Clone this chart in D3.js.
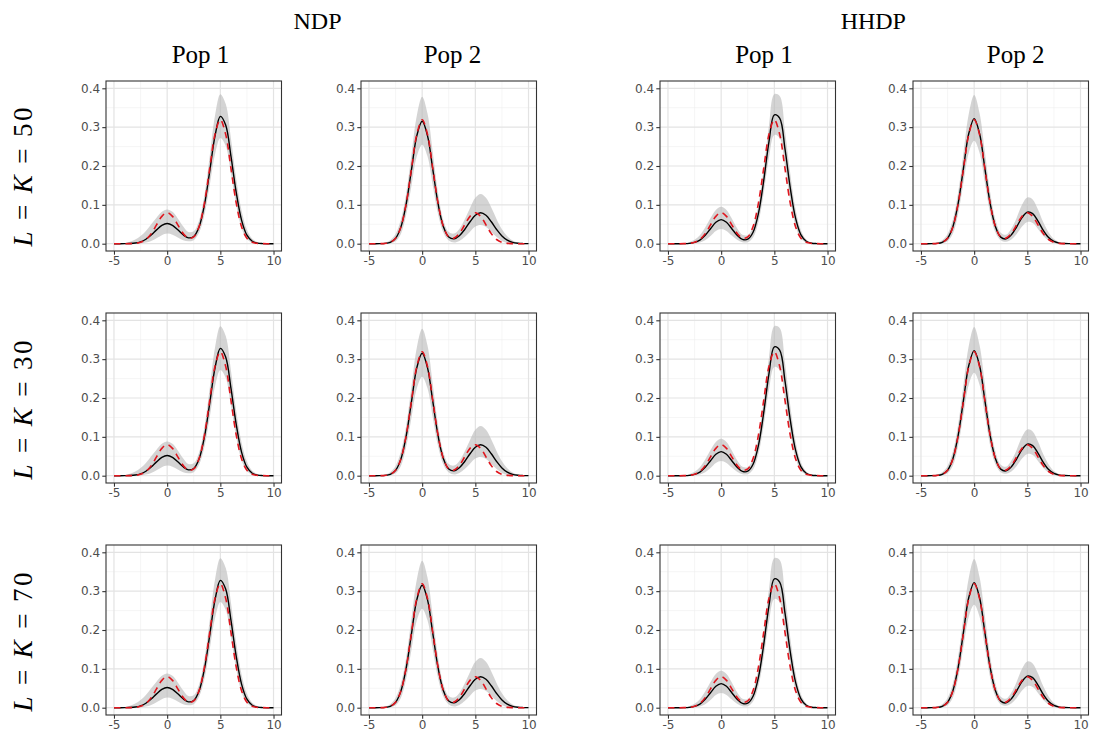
<!DOCTYPE html>
<html>
<head>
<meta charset="utf-8">
<script src="https://cdn.jsdelivr.net/npm/d3@7"></script>
<style>
  html, body { margin: 0; padding: 0; background: #ffffff; }
  svg { display: block; }
</style>
</head>
<body>
<svg id="chart" width="1094" height="738"></svg>
<script>
// ---------------- data ----------------
const xGrid = [-5,-4.5,-4,-3.5,-3,-2.5,-2,-1.5,-1,-0.5,0,0.5,1,1.5,2,2.5,3,3.5,4,4.5,5,5.5,6,6.5,7,7.5,8,8.5,9,9.5,10];
const xTicks = [-5, 0, 5, 10];
const yTicks = [0, 0.1, 0.2, 0.3, 0.4];
const methods = ["NDP", "HHDP"];
const populations = ["Pop 1", "Pop 2"];
const rowValues = ["50", "30", "70"];

// true densities (red dashed)
const truePop1 = [0,0,0,0.0002,0.0009,0.0035,0.0108,0.0259,0.0484,0.0704,0.0798,0.0704,0.0485,0.0266,0.0143,0.0175,0.0441,0.1038,0.1936,0.2817,0.3191,0.2817,0.1936,0.1036,0.0432,0.014,0.0035,0.0007,0.0001,0,0];
const truePop2 = [0,0,0.0001,0.0007,0.0035,0.014,0.0432,0.1036,0.1936,0.2817,0.3191,0.2817,0.1936,0.1038,0.0441,0.0175,0.0143,0.0266,0.0485,0.0704,0.0798,0.0704,0.0484,0.0259,0.0108,0.0035,0.0009,0.0002,0,0,0];

// NDP, Pop 1
const estNdpPop1 = [0,0,0.0001,0.0005,0.0017,0.0049,0.0115,0.0222,0.0356,0.0473,0.052,0.0473,0.0357,0.0229,0.0151,0.0185,0.0429,0.099,0.1861,0.2775,0.3277,0.3053,0.2246,0.1307,0.0601,0.0218,0.0062,0.0014,0.0003,0,0];
const upNdpPop1  = [0,0.0005,0.002,0.005,0.011,0.02,0.033,0.05,0.067,0.082,0.088,0.082,0.065,0.045,0.03,0.032,0.06,0.125,0.225,0.33,0.385,0.36,0.27,0.165,0.085,0.036,0.013,0.004,0.001,0,0];
const loNdpPop1  = [0,0,0,0,0.0003,0.001,0.003,0.007,0.014,0.022,0.026,0.023,0.016,0.009,0.006,0.009,0.028,0.074,0.15,0.23,0.272,0.252,0.18,0.098,0.04,0.012,0.003,0.0005,0,0,0];

// NDP, Pop 2
const estNdpPop2 = [0,0,0.0001,0.0007,0.0035,0.0138,0.0427,0.1023,0.1912,0.2782,0.3151,0.2782,0.1912,0.1023,0.0438,0.0173,0.0126,0.0206,0.0366,0.0564,0.0732,0.0798,0.0732,0.0564,0.0365,0.0199,0.0091,0.0035,0.0011,0.0003,0.0001];
const upNdpPop2  = [0,0.0003,0.001,0.003,0.009,0.025,0.062,0.13,0.23,0.33,0.378,0.335,0.235,0.13,0.06,0.03,0.026,0.038,0.062,0.092,0.118,0.128,0.118,0.093,0.063,0.037,0.019,0.008,0.003,0.001,0];
const loNdpPop2  = [0,0,0,0,0.001,0.006,0.025,0.075,0.15,0.225,0.255,0.225,0.15,0.075,0.028,0.008,0.003,0.007,0.017,0.031,0.044,0.048,0.043,0.03,0.017,0.007,0.002,0.0005,0,0,0];

// HHDP, Pop 1
const estHhdpPop1 = [0,0,0,0.0002,0.0009,0.0033,0.0094,0.0215,0.0386,0.0551,0.062,0.0551,0.0386,0.0218,0.0112,0.0115,0.0295,0.0776,0.1623,0.2636,0.3317,0.3234,0.2439,0.143,0.065,0.0228,0.0062,0.0013,0.0002,0,0];
const upHhdpPop1  = [0,0,0.0005,0.0015,0.004,0.01,0.022,0.042,0.066,0.087,0.095,0.087,0.065,0.04,0.023,0.022,0.045,0.1,0.195,0.305,0.385,0.38,0.29,0.18,0.088,0.034,0.011,0.003,0.0006,0,0];
const loHhdpPop1  = [0,0,0,0,0.0002,0.001,0.003,0.009,0.02,0.033,0.038,0.033,0.021,0.01,0.004,0.004,0.016,0.055,0.13,0.222,0.28,0.272,0.2,0.11,0.045,0.013,0.003,0.0005,0,0,0];

// HHDP, Pop 2
const estHhdpPop2 = [0,0,0.0001,0.0007,0.0036,0.0141,0.0436,0.1045,0.1953,0.2842,0.322,0.2842,0.1953,0.1046,0.0443,0.0169,0.0125,0.0229,0.0436,0.0671,0.0812,0.0774,0.058,0.0343,0.0159,0.0058,0.0016,0.0004,0.0001,0,0];
const upHhdpPop2  = [0,0.0002,0.0008,0.003,0.009,0.025,0.062,0.133,0.235,0.335,0.383,0.337,0.238,0.133,0.062,0.028,0.023,0.039,0.067,0.1,0.119,0.114,0.088,0.055,0.029,0.012,0.004,0.001,0.0003,0,0];
const loHhdpPop2  = [0,0,0,0,0.001,0.006,0.026,0.078,0.158,0.235,0.265,0.235,0.158,0.078,0.029,0.009,0.005,0.011,0.025,0.044,0.056,0.053,0.038,0.02,0.008,0.002,0.0005,0,0,0,0];

// ---------------- layout ----------------
const panelLefts = [106, 361, 660, 913];
const panelTops = [81, 313, 545];
const PW = 175.5, PH = 170;

const columns = [
  { truth: truePop1, est: estNdpPop1,  lo: loNdpPop1,  up: upNdpPop1 },
  { truth: truePop2, est: estNdpPop2,  lo: loNdpPop2,  up: upNdpPop2 },
  { truth: truePop1, est: estHhdpPop1, lo: loHhdpPop1, up: upHhdpPop1 },
  { truth: truePop2, est: estHhdpPop2, lo: loHhdpPop2, up: upHhdpPop2 }
];

const svg = d3.select("#chart");
const x = d3.scaleLinear().domain([-5.75, 10.75]).range([0, PW]);
const y = d3.scaleLinear().domain([-0.0188, 0.4188]).range([PH, 0]);
const xMinor = [-2.5, 2.5, 7.5];
const yMinor = [0.05, 0.15, 0.25, 0.35];
const curve = d3.curveCatmullRom.alpha(0.5);

const area = d3.area()
  .x((d, i) => x(xGrid[i]))
  .y0(d => y(d[0]))
  .y1(d => y(d[1]))
  .curve(curve);
const line = d3.line()
  .x((d, i) => x(xGrid[i]))
  .y(d => y(d))
  .curve(curve);

const tickFont = "'DejaVu Sans', 'Liberation Sans', Arial, sans-serif";
const serif = "'Liberation Serif', 'Times New Roman', serif";

panelTops.forEach((top, r) => {
  panelLefts.forEach((left, c) => {
    const col = columns[c];
    const g = svg.append("g").attr("transform", `translate(${left},${top})`);

    // grid
    const grid = g.append("g");
    grid.selectAll(".vmin").data(xMinor).join("line")
      .attr("x1", d => x(d)).attr("x2", d => x(d)).attr("y1", 0).attr("y2", PH)
      .attr("stroke", "#eeeeee").attr("stroke-width", 0.6);
    grid.selectAll(".hmin").data(yMinor).join("line")
      .attr("x1", 0).attr("x2", PW).attr("y1", d => y(d)).attr("y2", d => y(d))
      .attr("stroke", "#eeeeee").attr("stroke-width", 0.6);
    grid.selectAll(".vmaj").data(xTicks).join("line")
      .attr("x1", d => x(d)).attr("x2", d => x(d)).attr("y1", 0).attr("y2", PH)
      .attr("stroke", "#e3e3e3").attr("stroke-width", 1.2);
    grid.selectAll(".hmaj").data(yTicks).join("line")
      .attr("x1", 0).attr("x2", PW).attr("y1", d => y(d)).attr("y2", d => y(d))
      .attr("stroke", "#e3e3e3").attr("stroke-width", 1.2);

    // band
    const bandData = col.lo.map((v, i) => [v, col.up[i]]);
    g.append("path").attr("d", area(bandData))
      .attr("fill", "#b8b8b8").attr("fill-opacity", 0.6).attr("stroke", "none");

    // estimate
    g.append("path").attr("d", line(col.est))
      .attr("fill", "none").attr("stroke", "#000000").attr("stroke-width", 1.4);

    // truth
    g.append("path").attr("d", line(col.truth))
      .attr("fill", "none").attr("stroke", "#e0161e").attr("stroke-width", 1.6)
      .attr("stroke-dasharray", "6.5,5");

    // border
    g.append("rect").attr("x", 0).attr("y", 0).attr("width", PW).attr("height", PH)
      .attr("fill", "none").attr("stroke", "#333333").attr("stroke-width", 1.1);

    // axes
    const ax = g.append("g").attr("transform", `translate(0,${PH})`)
      .call(d3.axisBottom(x).tickValues(xTicks).tickSize(3.7).tickPadding(2.2).tickFormat(d => String(d)));
    const ay = g.append("g")
      .call(d3.axisLeft(y).tickValues(yTicks).tickSize(3.7).tickPadding(2.2).tickFormat(d3.format(".1f")));
    [ax, ay].forEach(a => {
      a.select(".domain").remove();
      a.selectAll(".tick line").attr("stroke", "#333333").attr("stroke-width", 1.1);
      a.selectAll(".tick text").attr("fill", "#4d4d4d")
        .style("font-family", tickFont).style("font-size", "12px");
    });
  });
});

// headers
const methodCenters = [317.5, 873.3];
methods.forEach((m, i) => {
  svg.append("text").attr("x", methodCenters[i]).attr("y", 29)
    .attr("text-anchor", "middle").style("font-family", serif).style("font-size", "24px")
    .attr("fill", "#000").text(m);
});
const popCenters = [200.5, 452.5, 764, 1015.7];
popCenters.forEach((cx, i) => {
  svg.append("text").attr("x", cx).attr("y", 62.5)
    .attr("text-anchor", "middle").style("font-family", serif).style("font-size", "25px")
    .attr("fill", "#000").text(populations[i % 2]);
});

// row labels
const rowCenters = [177, 410, 642];
rowValues.forEach((v, i) => {
  const t = svg.append("text")
    .attr("transform", `translate(32,${rowCenters[i]}) rotate(-90)`)
    .attr("text-anchor", "middle")
    .attr("textLength", 139).attr("lengthAdjust", "spacing")
    .style("font-family", serif).style("font-size", "27px").attr("fill", "#000");
  t.append("tspan").style("font-style", "italic").text("L");
  t.append("tspan").text(" = ");
  t.append("tspan").style("font-style", "italic").text("K");
  t.append("tspan").text(" = " + v);
});
</script>
</body>
</html>
